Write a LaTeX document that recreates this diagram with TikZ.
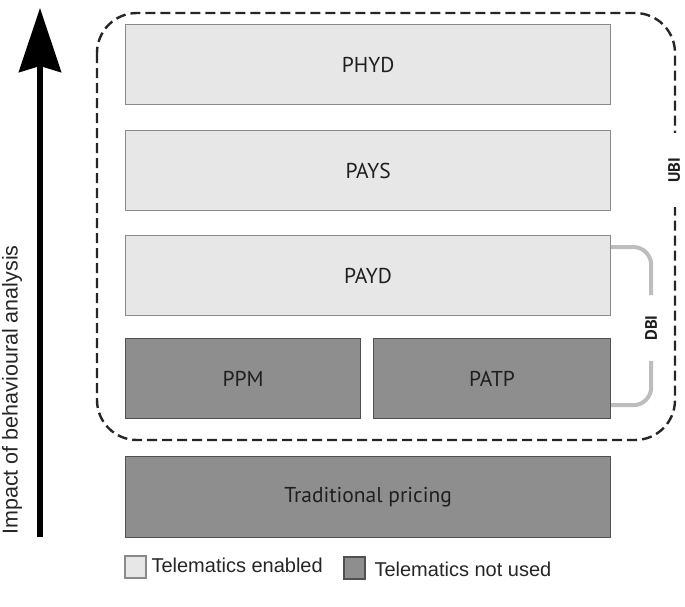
\documentclass[tikz,border=0pt]{standalone}
\usepackage{fontspec}
\setmainfont{Liberation Sans}
\newfontfamily\boxfont{PT Sans}
\usetikzlibrary{arrows.meta,calc}
\definecolor{lightfill}{HTML}{E7E7E7}
\definecolor{lightline}{HTML}{8A8A8A}
\definecolor{darkfill}{HTML}{8E8E8E}
\definecolor{darkline}{HTML}{505050}
\definecolor{bracket}{HTML}{BDBDBD}
\begin{document}
\begin{tikzpicture}[x=1pt,y=-1pt,
  tier/.style={draw=lightline,fill=lightfill,line width=1.2pt,anchor=north west,
    font=\boxfont\fontsize{21.5}{24}\selectfont,text=black!88},
  tierdark/.style={tier,draw=darkline,fill=darkfill},
  sidelabel/.style={rotate=90,font=\boxfont\bfseries\fontsize{16.5}{19}\selectfont,text=black!88},
  legendbox/.style={draw=lightline,line width=1.2pt,minimum width=21pt,minimum height=22pt,inner sep=0pt},
  legendtext/.style={anchor=west,font=\fontsize{20}{24}\selectfont,text=black!85}]
\useasboundingbox (0,0) rectangle (685,606);

% vertical axis
\draw[line width=6pt,-{Stealth[width=42pt,length=64pt,inset=6pt]}] (40,537) -- (40,8);
\node[rotate=90,font=\fontsize{21.5}{24}\selectfont,text=black!85] (axis) at (12,390) {Impact of behavioural analysis};

% UBI envelope
\draw[dashed,dash pattern=on 10pt off 5pt,line width=2.4pt,rounded corners=40pt,black!85]
  (97,13) rectangle (675,440);
\node[sidelabel,fill=white,minimum width=74pt,inner xsep=0pt,inner ysep=1pt] (ubi) at (674,170) {UBI};

% tiers
\node[tier,minimum width=485pt,minimum height=80pt] (phyd) at (125,24) {PHYD};
\node[tier,minimum width=485pt,minimum height=80pt] (pays) at (125,130) {PAYS};
\node[tier,minimum width=485pt,minimum height=80pt] (payd) at (125,235) {PAYD};
\node[tierdark,minimum width=235pt,minimum height=80pt] (ppm) at (125,338) {PPM};
\node[tierdark,minimum width=237pt,minimum height=80pt] (patp) at (373,338) {PATP};
\node[tierdark,minimum width=485pt,minimum height=81pt] (trad) at (125,456) {Traditional pricing};

% DBI bracket
\node[sidelabel] (dbi) at (651,328) {DBI};
\draw[bracket,line width=4pt,rounded corners=18pt]
  ($(payd.north east)+(0,12)$) -- ++(40,0) -- ($(payd.north east)+(40,60)$);
\draw[bracket,line width=4pt,rounded corners=18pt]
  ($(patp.south east)+(40,-58)$) -- ($(patp.south east)+(40,-14)$) -- ($(patp.south east)+(0,-14)$);

% legend
\node[legendbox,fill=lightfill] (leg1) at (135.5,567) {};
\node[legendtext] (leg1t) at (148,565) {Telematics enabled};
\node[legendbox,draw=darkline,fill=darkfill] (leg2) at (354.5,568) {};
\node[legendtext] (leg2t) at (371,569) {Telematics not used};
\end{tikzpicture}
\end{document}
